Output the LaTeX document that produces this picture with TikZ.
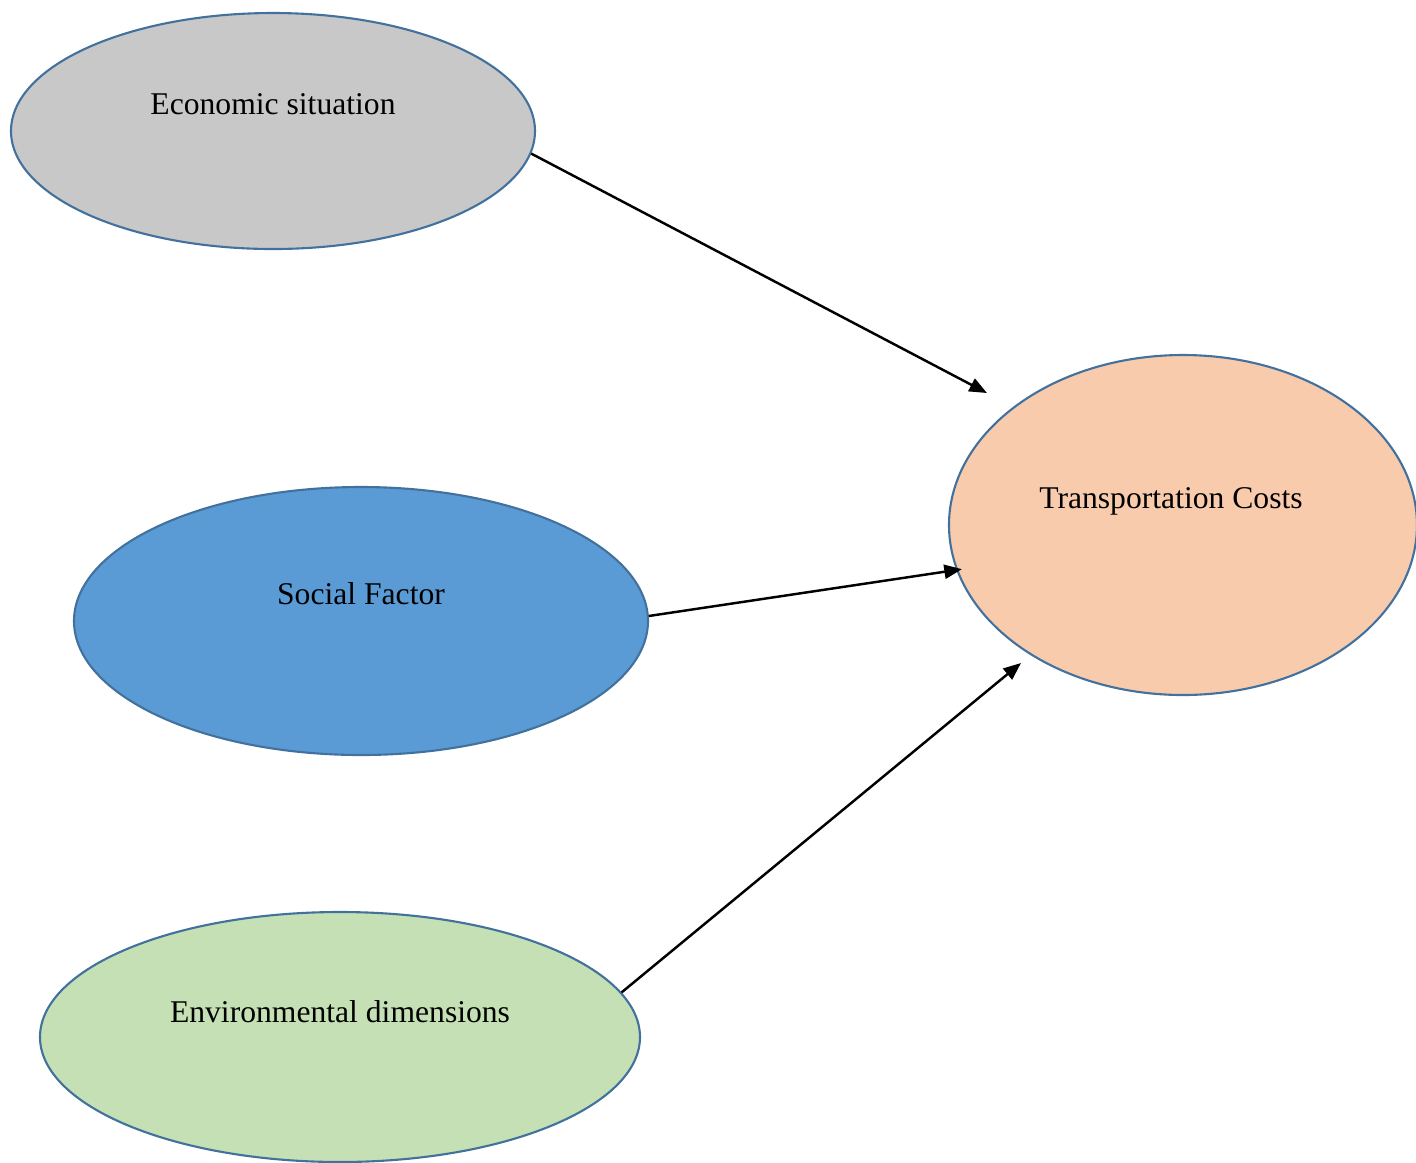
\documentclass[tikz,border=0pt]{standalone}
\usepackage{fontspec}
\setmainfont{Liberation Serif}
\usetikzlibrary{shapes.geometric,arrows.meta,positioning}
\definecolor{edgeblue}{HTML}{41719C}
\definecolor{ecogray}{HTML}{C8C8C8}
\definecolor{socblue}{HTML}{5B9BD5}
\definecolor{envgreen}{HTML}{C5E0B4}
\definecolor{transpeach}{HTML}{F8CBAD}

\begin{document}
\begin{tikzpicture}[
  factor/.style={ellipse, draw=edgeblue, line width=0.6pt, inner sep=0pt},
  caption/.style={font=\fontsize{9}{11}\selectfont, text=black},
  link/.style={-{Triangle[length=5pt,width=4pt]}, line width=0.7pt, black}
]
  \useasboundingbox (0,0) rectangle (14.16,-11.62);
  % Factors
  \node[factor, fill=ecogray, minimum width=5.24cm, minimum height=2.36cm] (eco) at (2.73,-1.31) {};
  \node[factor, fill=socblue, minimum width=5.74cm, minimum height=2.68cm] (soc) at (3.61,-6.21) {};
  \node[factor, fill=envgreen, minimum width=6.00cm, minimum height=2.50cm] (env) at (3.40,-10.37) {};
  \node[factor, fill=transpeach, minimum width=4.68cm, minimum height=3.40cm] (trans) at (11.83,-5.25) {};
  % Labels
  \node[caption] (ecotext) at ([yshift=0.27cm]eco.center) {Economic situation};
  \node[caption] (soctext) at ([yshift=0.27cm]soc.center) {Social Factor};
  \node[caption] (envtext) at ([yshift=0.25cm]env.center) {Environmental dimensions};
  \node[caption] (transtext) at ([xshift=-0.12cm,yshift=0.24cm]trans.center) {Transportation Costs};
  % Arrow ends
  \coordinate (ecoend) at (9.87,-3.93);
  \coordinate (envend) at (10.21,-6.63);
  % Arrows
  \draw[link] (eco.-5.2) -- (ecoend);
  \draw[link] (soc.1.6) -- ([xshift=0.06cm]trans.191.9);
  \draw[link] (env.9.6) -- (envend);
\end{tikzpicture}
\end{document}
